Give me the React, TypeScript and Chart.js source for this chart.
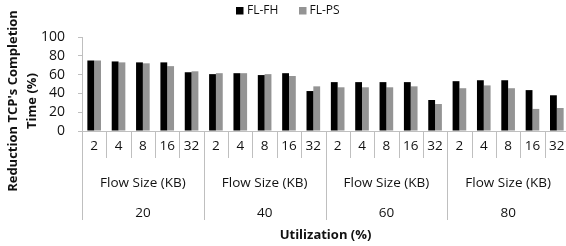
import React, { useEffect, useRef } from "react";
import { Chart, registerables } from "chart.js";

Chart.register(...registerables);

const utilizations = ["20", "40", "60", "80"];
const flowSizes = ["2", "4", "8", "16", "32"];
const seriesNames = ["FL-FH", "FL-PS"];
const flfh = [75, 74, 73, 73, 62.5, 60.5, 61.5, 59.5, 61.5, 42.5, 52, 52, 52, 52, 33, 53, 54, 54, 43.5, 38];
const flps = [75, 73, 72, 69, 63.5, 61.5, 61.5, 60.5, 58.5, 47.5, 46.5, 46.5, 46.5, 47.5, 28.7, 45.5, 48.5, 45.5, 23.5, 24.5];
const yTicks = [0, 20, 40, 60, 80, 100];
const groupLabel = "Flow Size (KB)";
const xTitle = "Utilization (%)";
const yTitleLines = ["Reduction TCP's Completion", "Time (%)"];

const labels: string[] = [];
utilizations.forEach((u) => flowSizes.forEach((f) => labels.push(u + "-" + f)));

const FONT = "'Open Sans', sans-serif";
const TEXT = "#111111";
const LINE = "#bfbfbf";
const COLORS = ["#000000", "#949494"];

const overlay = {
  id: "overlay",
  afterDraw(chart: any) {
    const ctx = chart.ctx as CanvasRenderingContext2D;
    const { left, right, bottom } = chart.chartArea;
    const xs = chart.scales.x;
    const n = labels.length;
    const w = (right - left) / n;
    ctx.save();
    ctx.strokeStyle = LINE;
    ctx.lineWidth = 1;
    ctx.beginPath();
    const by = Math.round(bottom) + 0.5;
    ctx.moveTo(left, by);
    ctx.lineTo(right, by);
    ctx.stroke();
    for (let i = 0; i <= n; i++) {
      const px = Math.round(left + i * w) + 0.5;
      const long = i % flowSizes.length === 0;
      ctx.beginPath();
      ctx.moveTo(px, by);
      ctx.lineTo(px, long ? 220 : 158);
      ctx.stroke();
    }
    ctx.fillStyle = TEXT;
    ctx.textAlign = "center";
    ctx.textBaseline = "middle";
    ctx.font = `13.5px ${FONT}`;
    for (let i = 0; i < n; i++) {
      const cx = xs.getPixelForValue(i);
      ctx.fillText(flowSizes[i % flowSizes.length], cx, 146);
    }
    const gw = w * flowSizes.length;
    utilizations.forEach((u, g) => {
      const cx = left + g * gw + gw / 2;
      ctx.fillText(groupLabel, cx, 183);
      ctx.fillText(u, cx, 213);
    });
    ctx.font = `bold 13px ${FONT}`;
    ctx.fillText(xTitle, (left + right) / 2, 235);
    ctx.save();
    ctx.translate(13.5, 101);
    ctx.rotate(-Math.PI / 2);
    ctx.fillText(yTitleLines[0], 0, 0);
    ctx.restore();
    ctx.save();
    ctx.translate(32.5, 101);
    ctx.rotate(-Math.PI / 2);
    ctx.fillText(yTitleLines[1], 0, 0);
    ctx.restore();
    ctx.font = `12px ${FONT}`;
    ctx.textAlign = "left";
    const legendItems = [
      { box: 236, text: 247 },
      { box: 299, text: 309.5 },
    ];
    seriesNames.forEach((s, k) => {
      ctx.fillStyle = COLORS[k];
      ctx.fillRect(legendItems[k].box, 7, 7.5, 7.5);
      ctx.fillStyle = TEXT;
      ctx.fillText(s, legendItems[k].text, 11);
    });
    ctx.restore();
  },
};

export default function App() {
  const ref = useRef<HTMLCanvasElement | null>(null);
  useEffect(() => {
    document.body.style.margin = "0";
    const canvas = ref.current!;
    const chart = new Chart(canvas, {
      type: "bar",
      data: {
        labels,
        datasets: [
          { label: seriesNames[0], data: flfh, backgroundColor: COLORS[0], categoryPercentage: 0.56, barPercentage: 1.0 },
          { label: seriesNames[1], data: flps, backgroundColor: COLORS[1], categoryPercentage: 0.56, barPercentage: 1.0 },
        ],
      },
      options: {
        responsive: false,
        animation: false,
        devicePixelRatio: 1,
        layout: { padding: { top: 37, bottom: 115, right: 1, left: 0 } },
        plugins: { legend: { display: false }, tooltip: { enabled: false } },
        scales: {
          x: { display: false, offset: true },
          y: {
            min: 0,
            max: 100,
            afterFit: (s: any) => {
              s.width = 82;
            },
            afterBuildTicks: (s: any) => {
              s.ticks = yTicks.map((v) => ({ value: v }));
            },
            grid: { drawOnChartArea: false, drawTicks: true, tickLength: 4, color: LINE },
            border: { color: LINE },
            ticks: { padding: 13, color: TEXT, autoSkip: false, font: { family: FONT, size: 14 } },
          },
        },
      },
      plugins: [overlay],
    });
    return () => chart.destroy();
  }, []);
  return (
    <div style={{ width: 566, height: 246, overflow: "hidden" }}>
      <canvas ref={ref} width={570} height={246} style={{ display: "block" }} />
    </div>
  );
}
